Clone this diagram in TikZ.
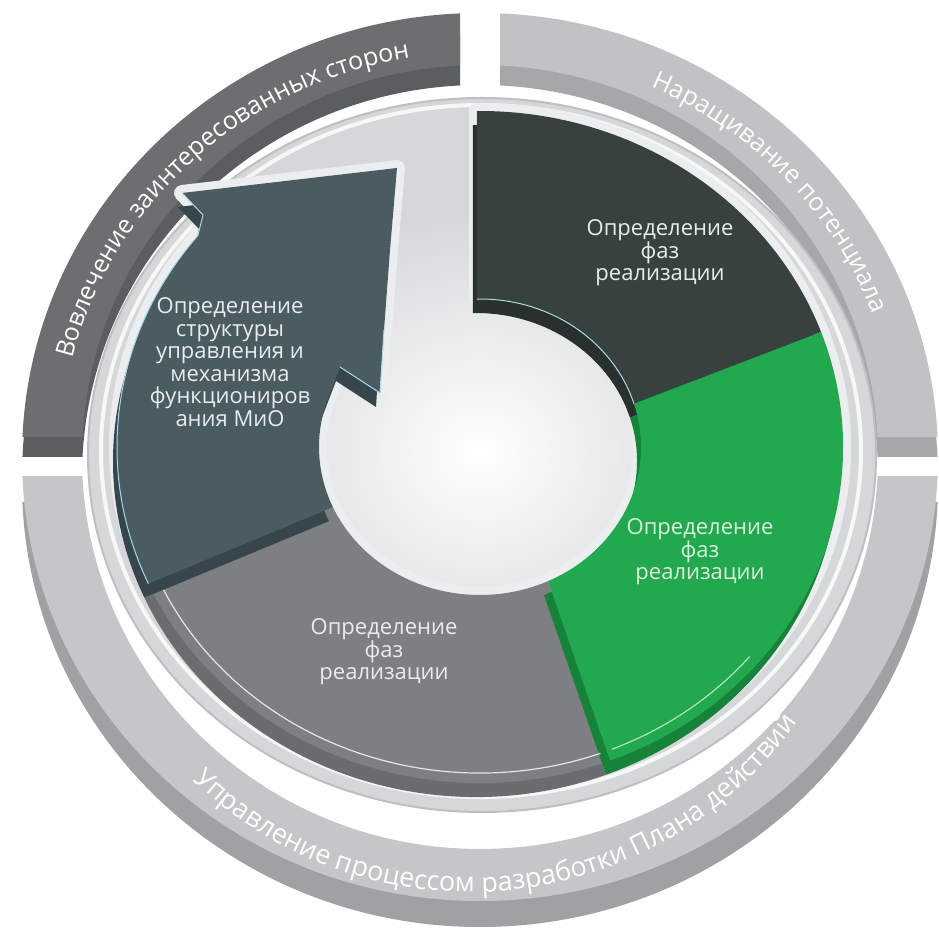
\documentclass[tikz,border=0pt]{standalone}
\usepackage{fontspec}
\setmainfont{Open Sans}
\usetikzlibrary{decorations.text}

\definecolor{bandtl}{HTML}{6D6E70}
\definecolor{bandtlside}{HTML}{5B5E60}
\definecolor{bandtr}{HTML}{C1C2C4}
\definecolor{bandtrside}{HTML}{A6A7A9}
\definecolor{bandbt}{HTML}{C5C6C8}
\definecolor{bandbtside}{HTML}{A0A1A3}
\definecolor{platgray}{HTML}{D6D7D9}
\definecolor{platedge}{HTML}{BEBFC1}
\definecolor{rimgray}{HTML}{ECEDEE}
\definecolor{tealface}{HTML}{4B5B62}
\definecolor{tealwall}{HTML}{37464C}
\definecolor{darkface}{HTML}{37423F}
\definecolor{darkwall}{HTML}{2A302E}
\definecolor{greenface}{HTML}{22A84E}
\definecolor{greenwall}{HTML}{16823A}
\definecolor{grayface}{HTML}{7D7F81}
\definecolor{graywall}{HTML}{6A6C6E}
\definecolor{edgecyan}{HTML}{A9D9E4}
\definecolor{segwhite}{HTML}{E8ECEC}
\definecolor{greenwhite}{HTML}{D8F0DA}

\newcommand{\bandfont}{\fontsize{25}{25}\selectfont\color{white}}
\newcommand{\bandfontlow}{\fontsize{27}{27}\selectfont\color{white}}

\tikzset{
  ring/.style={insert path={(0,0) ellipse [x radius=458, y radius=444]
                            (0,0) ellipse [x radius=398, y radius=392]}},
  bandtext/.style={decorate, decoration={text along path, text align=center, text={#1}}},
  segtext/.style={align=center, text=segwhite, font=\fontsize{22}{22.5}\selectfont},
  wall/.style={shift={(-4,-14)}},
  rim/.style={draw=rimgray, line width=16, line join=round},
  grayseg/.style={insert path={(204:363 and 336)
      arc[start angle=204, end angle=291, x radius=363, y radius=336]
      -- (295:161 and 148)
      arc[start angle=295, end angle=204, x radius=161, y radius=148] -- cycle}},
  greenseg/.style={insert path={(-69:363 and 336)
      arc[start angle=-69, end angle=20, x radius=363, y radius=336]
      -- (17:161 and 148)
      arc[start angle=17, end angle=-65, x radius=161, y radius=148] -- cycle}},
  darkseg/.style={insert path={(20:363 and 336)
      arc[start angle=20, end angle=90.5, x radius=363, y radius=336]
      -- (91.1:161 and 148)
      arc[start angle=91.1, end angle=17, x radius=161, y radius=148] -- cycle}},
  tealseg/.style={insert path={(-83,279) -- (-90,197) -- (-96,117) -- (-100,54)
      -- (-140,80) -- (162:161 and 148)
      arc[start angle=162, end angle=204, x radius=161, y radius=148]
      -- (204:363 and 336)
      arc[start angle=204, end angle=141, x radius=363, y radius=336]
      -- (-277,232) -- (-298,254) -- cycle}},
}

\begin{document}
\begin{tikzpicture}[x=1pt, y=1pt]
  \useasboundingbox[fill=white] (-480,-484) rectangle (458,457);

  % outer bands
  \begin{scope}[shift={(0,-20)}]
    \clip (-500,20) rectangle (-20,500);
    \fill[even odd rule, bandtlside, ring];
  \end{scope}
  \begin{scope}
    \clip (-500,20) rectangle (-20,500);
    \fill[even odd rule, bandtl, ring];
  \end{scope}
  \begin{scope}[shift={(0,-20)}]
    \clip (20,20) rectangle (500,500);
    \fill[even odd rule, bandtrside, ring];
  \end{scope}
  \begin{scope}
    \clip (20,20) rectangle (500,500);
    \fill[even odd rule, bandtr, ring];
  \end{scope}
  \begin{scope}[shift={(0,-26)}]
    \clip (-500,-20) rectangle (500,-500);
    \fill[even odd rule, bandbtside, ring];
  \end{scope}
  \begin{scope}
    \clip (-500,-20) rectangle (500,-500);
    \fill[even odd rule, bandbt, ring];
  \end{scope}

  % platter
  \fill[platgray, draw=platedge, line width=2] (2,2) ellipse [x radius=394, y radius=357];
  \draw[white, line width=4, opacity=.8] (1,6) ellipse [x radius=380, y radius=346];
  \shade[inner color=white, outer color=platgray] (0,5) ellipse [x radius=260, y radius=240];

  \begin{scope}[shift={(0,10)}]
    \path[rim, grayseg];
    \path[rim, tealseg];
    \path[rim, darkseg];
    \path[rim, greenseg];

    \fill[graywall, wall, grayseg];
    \fill[grayface, grayseg];
    \fill[tealwall, wall, tealseg];
    \fill[tealface, tealseg];
    \fill[darkwall, wall, darkseg];
    \fill[darkface, darkseg];
    \fill[greenwall, wall, greenseg];
    \fill[greenface, greenseg];

    % edge highlights
    \draw[white, line width=1.2, opacity=.8] (206:352 and 326)
      arc[start angle=206, end angle=290, x radius=352, y radius=326];
    \draw[greenwhite, line width=1.2, opacity=.8] (-68:352 and 326)
      arc[start angle=-68, end angle=-40, x radius=352, y radius=326];
    \draw[edgecyan, line width=1] (91.1:161 and 148)
      arc[start angle=91.1, end angle=17, x radius=161, y radius=148];
    \draw[edgecyan, line width=1, line join=round] (-140,80) -- (-100,54) (-96,117) -- (-100,54);
    \draw[edgecyan, line width=1, line join=round] (204:363 and 336)
      arc[start angle=204, end angle=141, x radius=363, y radius=336]
      -- (-277,232) -- (-298,254);
  \end{scope}

  % band texts
  \path[bandtext={|\bandfont|Вовлечение заинтересованных сторон}]
    (178:420 and 405) arc[start angle=178, end angle=88, x radius=420, y radius=405];
  \path[bandtext={|\bandfont|Наращивание потенциала}]
    (88:420 and 405) arc[start angle=88, end angle=-2, x radius=420, y radius=405];
  \path[shift={(-10,-35)}, bandtext={|\bandfontlow|Управление процессом разработки Плана действий}]
    (200:400) arc[start angle=200, end angle=351, radius=400];

  % segment texts
  \node[segtext] (structure) at (-250,95)
    {Определение\\структуры\\управления и\\механизма\\функциониров\\ания МиО};
  \node[segtext] (phasedark) at (180,204) {Определение\\фаз\\реализации};
  \node[segtext, text=greenwhite] (phasegreen) at (220,-95) {Определение\\фаз\\реализации};
  \node[segtext] (phasegray) at (-96,-195) {Определение\\фаз\\реализации};
\end{tikzpicture}
\end{document}
